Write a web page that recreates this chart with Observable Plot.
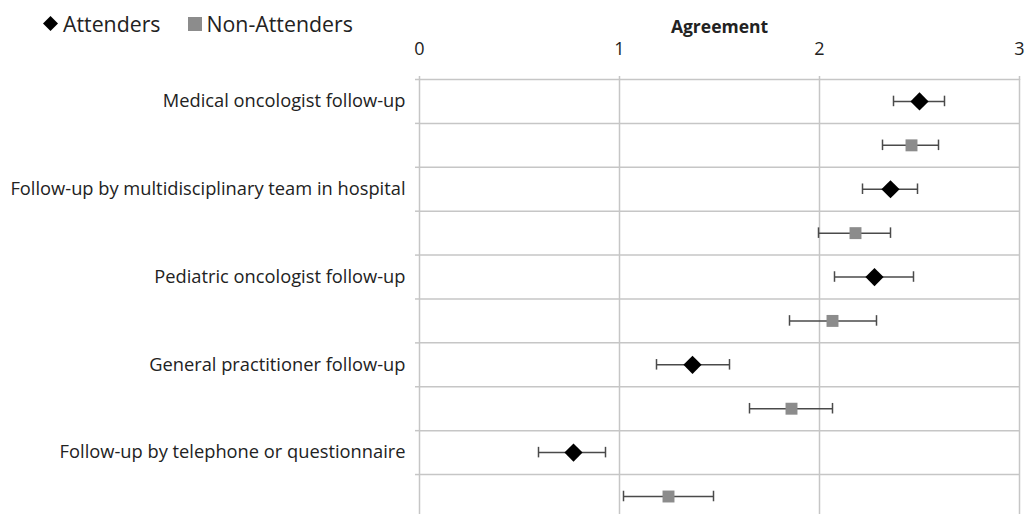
<!DOCTYPE html>
<html>
<head>
<meta charset="utf-8">
<script src="https://cdn.jsdelivr.net/npm/d3@7"></script>
<script src="https://cdn.jsdelivr.net/npm/@observablehq/plot@0.6"></script>
<style>
  html, body { margin: 0; padding: 0; background: #fff; }
  #wrap { position: relative; width: 1026px; height: 514px; overflow: hidden; }
  #legend { position: absolute; left: 43px; top: 9px; font-family: "Open Sans", sans-serif; font-size: 21.3px; color: #222; display: flex; align-items: center; }
  #legend span.item { display: inline-flex; align-items: center; }
  #legend span.item + span.item { margin-left: 27px; }
  #legend svg { margin-right: 5px; }
  #chart svg [aria-label="x-axis label"] text { font-weight: bold; font-size: 17.5px; }
</style>
</head>
<body>
<div id="wrap">
  <div id="chart"></div>
  <div id="legend"></div>
</div>
<script>
const categories = [
  "Medical oncologist follow-up",
  "Follow-up by multidisciplinary team in hospital",
  "Pediatric oncologist follow-up",
  "General practitioner follow-up",
  "Follow-up by telephone or questionnaire"
];
const groups = ["Attenders", "Non-Attenders"];
const attMean = [2.50, 2.355, 2.275, 1.365, 0.77];
const attLow  = [2.37, 2.215, 2.075, 1.185, 0.595];
const attHigh = [2.625, 2.49, 2.47, 1.55, 0.93];
const nonMean = [2.46, 2.18, 2.065, 1.86, 1.245];
const nonLow  = [2.315, 1.995, 1.85, 1.65, 1.02];
const nonHigh = [2.595, 2.355, 2.285, 2.065, 1.47];
const xTicks = [0, 1, 2, 3];

const data = categories.flatMap((c, i) => [
  {cat: c, group: groups[0], mean: attMean[i], lo: attLow[i], hi: attHigh[i], row: 2 * i + 0.5},
  {cat: c, group: groups[1], mean: nonMean[i], lo: nonLow[i], hi: nonHigh[i], row: 2 * i + 1.5}
]);
const rowLines = d3.range(0, data.length);
const labelRows = data.filter(d => d.group === groups[0]).map(d => d.row);

const grid = "#c6c6c6";
const barColor = "#4a4a4a";
const colors = {"Attenders": "#000000", "Non-Attenders": "#8c8c8c"};

const plot = Plot.plot({
  width: 1026,
  height: 514,
  marginLeft: 419,
  marginRight: 7,
  marginTop: 79,
  marginBottom: 0,
  style: {fontFamily: "Open Sans, sans-serif", fontSize: "18px", color: "#222", background: "#fff"},
  x: {domain: [0, 3]},
  y: {domain: [0, 9.91], reverse: true},
  marks: [
    Plot.ruleX(xTicks, {stroke: grid, strokeWidth: 1.5}),
    Plot.ruleY(rowLines, {stroke: grid, strokeWidth: 1.5}),
    Plot.axisY(rowLines, {tickSize: 4, tickFormat: () => "", stroke: grid, strokeWidth: 1.5, label: null}),
    Plot.axisY(labelRows, {tickSize: 0, tickPadding: 14, tickFormat: d => categories[(d - 0.5) / 2], label: null, fontSize: 18.3, fill: "#222"}),
    Plot.axisX(xTicks, {anchor: "top", tickSize: 4, tickPadding: 21, stroke: grid, strokeWidth: 1.5, tickFormat: d3.format("d"), label: "Agreement", labelAnchor: "center", labelArrow: "none", labelOffset: 59, fontSize: 18, fill: "#222"}),
    Plot.ruleY(data, {y: "row", x1: "lo", x2: "hi", stroke: barColor, strokeWidth: 1.5}),
    Plot.ruleX(data, {x: "lo", y1: d => d.row - 0.12, y2: d => d.row + 0.12, stroke: barColor, strokeWidth: 1.5}),
    Plot.ruleX(data, {x: "hi", y1: d => d.row - 0.12, y2: d => d.row + 0.12, stroke: barColor, strokeWidth: 1.5}),
    Plot.dot(data.filter(d => d.group === groups[0]), {x: "mean", y: "row", symbol: "diamond2", r: 8.2, fill: colors["Attenders"], stroke: "none"}),
    Plot.dot(data.filter(d => d.group === groups[1]), {x: "mean", y: "row", symbol: "square2", r: 7.6, fill: colors["Non-Attenders"], stroke: "none"})
  ]
});
document.getElementById("chart").appendChild(plot);

const legend = document.getElementById("legend");
groups.forEach(g => {
  const item = document.createElement("span");
  item.className = "item";
  const s = g === "Attenders"
    ? `<svg width="15" height="15"><path d="M7.5,0L15,7.5L7.5,15L0,7.5Z" fill="${colors[g]}"/></svg>`
    : `<svg width="14" height="14"><rect x="0" y="0" width="14" height="14" fill="${colors[g]}"/></svg>`;
  item.innerHTML = s + `<span>${g}</span>`;
  legend.appendChild(item);
});
</script>
</body>
</html>
